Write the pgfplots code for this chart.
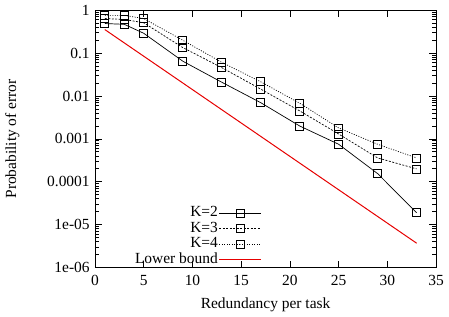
\documentclass[border=0pt]{standalone}
\usepackage{fontspec}
\setmainfont{Liberation Serif}
\usepackage{pgfplots}
\pgfplotsset{compat=1.18}
\definecolor{lbred}{RGB}{230,0,0}
\begin{document}
\fontsize{15.5}{18}\selectfont
\begin{tikzpicture}
\begin{axis}[
 scale only axis, width=342pt, height=258pt,
 xmin=0, xmax=35, ymode=log, ymin=1e-6, ymax=1,
 xtick={0,5,...,35},
 ytick={1e-6,1e-5,1e-4,1e-3,1e-2,1e-1,1},
 yticklabels={1e-06,1e-05,0.0001,0.001,0.01,0.1,1},
 minor ytick={2e-6,3e-6,4e-6,5e-6,6e-6,7e-6,8e-6,9e-6,2e-5,3e-5,4e-5,5e-5,6e-5,7e-5,8e-5,9e-5,2e-4,3e-4,4e-4,5e-4,6e-4,7e-4,8e-4,9e-4,2e-3,3e-3,4e-3,5e-3,6e-3,7e-3,8e-3,9e-3,0.02,0.03,0.04,0.05,0.06,0.07,0.08,0.09,0.2,0.3,0.4,0.5,0.6,0.7,0.8,0.9},
 /pgf/number format/assume math mode=true,
 tick label style={font=\fontsize{15.5}{18}\selectfont},
 xticklabel style={yshift=-2pt},
 label style={font=\fontsize{15.5}{18}\selectfont},
 xlabel={Redundancy per task}, ylabel={Probability of error},
 every axis x label/.style={at={(axis description cs:0.5,0)}, yshift=-37pt, anchor=center},
 every axis y label/.style={at={(axis description cs:0,0.5)}, xshift=-83pt, rotate=90, anchor=center},
 major tick length=7pt, minor tick length=4pt,
 axis line style={line width=1pt},
 tick style={line width=0.8pt, black},
 every axis legend/.style={at={(0.49,0.0)}, anchor=south east,
   font=\fontsize{15.5}{18}\selectfont, row sep=0pt, inner sep=0pt,
   nodes={inner sep=1pt, text height=10.5pt, text depth=3pt}},
 legend cell align=right,
 legend plot pos=right,
 legend image code/.code={\draw[#1, mark repeat=2, mark phase=2] plot coordinates {(0pt,0pt)(21pt,0pt)(42pt,0pt)};},
 every axis plot/.append style={line width=0.7pt},
]
\addplot[black, mark=square, mark size=4pt, mark options={solid}] coordinates {(1,0.49)(3,0.47)(5,0.29)(9,0.065)(13,0.021)(17,0.007)(21,0.002)(25,0.00075)(29,0.000155)(33,1.9e-5)};
\addlegendentry{K=2}
\addplot[black, dash pattern=on 2pt off 1.5pt, mark=square, mark size=4pt, mark options={solid}] coordinates {(1,0.64)(3,0.61)(5,0.51)(9,0.135)(13,0.046)(17,0.0145)(21,0.0045)(25,0.0013)(29,0.00036)(33,0.0002)};
\addlegendentry{K=3}
\addplot[black, dash pattern=on 1pt off 1.5pt, mark=square, mark size=4pt, mark options={solid}] coordinates {(1,0.76)(3,0.76)(5,0.64)(9,0.2)(13,0.061)(17,0.0215)(21,0.0068)(25,0.0018)(29,0.00075)(33,0.00036)};
\addlegendentry{K=4}
\addplot[lbred, line width=1pt, legend image code/.code={\pgfsetstrokecolor{lbred}\pgfsetlinewidth{1.2pt}\pgfsetdash{}{0pt}\pgfpathmoveto{\pgfpointorigin}\pgfpathlineto{\pgfpoint{42pt}{0pt}}\pgfusepath{stroke}}] coordinates {(1,0.355)(33,3.7e-6)};
\addlegendentry{Lower bound}
\end{axis}
\end{tikzpicture}
\end{document}
